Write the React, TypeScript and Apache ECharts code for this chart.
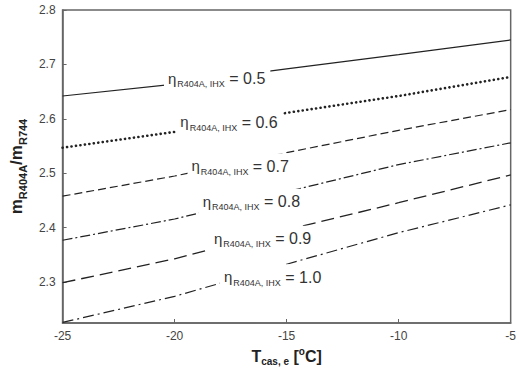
import React, { useEffect, useRef } from "react";
import * as echarts from "echarts";

const xValues = [-25, -20, -15, -10, -5];
const etaLabels = ["0.5", "0.6", "0.7", "0.8", "0.9", "1.0"];
const eta05 = [2.642, 2.664, 2.692, 2.718, 2.745];
const eta06 = [2.547, 2.576, 2.611, 2.642, 2.677];
const eta07 = [2.458, 2.495, 2.538, 2.579, 2.617];
const eta08 = [2.377, 2.416, 2.466, 2.516, 2.556];
const eta09 = [2.299, 2.343, 2.396, 2.446, 2.497];
const eta10 = [2.226, 2.274, 2.333, 2.391, 2.442];
const yTickValues = [2.3, 2.4, 2.5, 2.6, 2.7, 2.8];
const xTickValues = [-25, -20, -15, -10, -5];

// label anchor positions (data coordinates) for each curve's inline label
const labelAnchors = [
  [-18.1, 2.672],
  [-17.55, 2.592],
  [-17.05, 2.511],
  [-16.55, 2.446],
  [-16.05, 2.378],
  [-15.6, 2.307],
];

const seriesValues = [eta05, eta06, eta07, eta08, eta09, eta10];
const lineTypes: any[] = [
  "solid",
  [0.1, 4.4],
  [8, 4],
  [10, 3, 2, 3],
  [13, 6],
  [11, 4, 2, 4],
];
const lineWidths = [1.2, 2.6, 1.2, 1.2, 1.3, 1.2];
const lineCaps: any[] = ["butt", "round", "butt", "butt", "butt", "butt"];

const FONT = "Liberation Sans, Arial, sans-serif";

export default function App() {
  const ref = useRef<HTMLDivElement>(null);
  useEffect(() => {
    if (!ref.current) return;
    const chart = echarts.init(ref.current, undefined, { renderer: "svg" });
    const labelRich = {
      eta: { fontSize: 15, color: "#333", fontFamily: FONT, verticalAlign: "top", lineHeight: 18 },
      sub: { fontSize: 9, color: "#333", fontFamily: FONT, verticalAlign: "bottom", lineHeight: 14, padding: [0, 0, 0, 1] },
      eq: { fontSize: 16, color: "#333", fontFamily: FONT, verticalAlign: "top", lineHeight: 18 },
    };
    const series: any[] = seriesValues.map((vals, i) => ({
      type: "line",
      name: etaLabels[i],
      data: xValues.map((x, j) => [x, vals[j]]),
      showSymbol: false,
      symbol: "none",
      lineStyle: { color: "#222", width: lineWidths[i], type: lineTypes[i], cap: lineCaps[i] },
      z: 2,
      markPoint: {
        symbol: "circle",
        symbolSize: 0,
        silent: true,
        data: [{ coord: labelAnchors[i] }],
        label: {
          show: true,
          position: "inside",
          formatter: `{eta|η}{sub|R404A, IHX}{eq| = ${etaLabels[i]}}`,
          backgroundColor: "#fff",
          padding: [5, 5, 5, 4],
          rich: labelRich,
        },
      },
    }));
    chart.setOption({
      animation: false,
      backgroundColor: "#fff",
      grid: {
        left: 61,
        right: 7,
        top: 10,
        bottom: 50,
        show: true,
        borderColor: "#666",
        borderWidth: 1.5,
      },
      xAxis: {
        type: "value",
        min: -25,
        max: -5,
        interval: 5,
        name: "{t|T}{sub|cas, e}{t| [}{sup|o}{t|C]}",
        nameLocation: "middle",
        nameGap: 11,
        nameTextStyle: {
          rich: {
            t: { fontSize: 16, fontWeight: "bold", color: "#222", fontFamily: FONT, verticalAlign: "middle", lineHeight: 20 },
            sub: { fontSize: 10, fontWeight: "bold", color: "#222", fontFamily: FONT, verticalAlign: "bottom", lineHeight: 12 },
            sup: { fontSize: 10, fontWeight: "bold", color: "#222", fontFamily: FONT, verticalAlign: "top", lineHeight: 12 },
          },
        },
        axisLine: { lineStyle: { color: "#666", width: 1.5 } },
        axisTick: { inside: true, length: 4, lineStyle: { color: "#666" }, customValues: xTickValues },
        axisLabel: {
          color: "#444",
          fontSize: 12,
          fontFamily: FONT,
          margin: 7,
          customValues: xTickValues,
        },
        splitLine: { show: false },
      },
      yAxis: {
        type: "value",
        min: 2.225,
        max: 2.8,
        name: "{m|m}{sub|R404A}{m|/m}{sub|R744}",
        nameLocation: "middle",
        nameRotate: 90,
        nameGap: 34,
        nameTextStyle: {
          rich: {
            m: { fontSize: 17, fontWeight: "bold", color: "#222", fontFamily: FONT, verticalAlign: "top", lineHeight: 20 },
            sub: { fontSize: 11, fontWeight: "bold", color: "#222", fontFamily: FONT, verticalAlign: "bottom", lineHeight: 13 },
          },
        },
        axisLine: { lineStyle: { color: "#666", width: 1.5 } },
        axisTick: { inside: true, length: 4, lineStyle: { color: "#666" }, customValues: yTickValues },
        axisLabel: {
          color: "#444",
          fontSize: 12,
          fontFamily: FONT,
          margin: 7,
          customValues: yTickValues,
          formatter: (v: number) => v.toFixed(1),
        },
        splitLine: { show: false },
      },
      series,
    });
    return () => chart.dispose();
  }, []);
  return <div ref={ref} style={{ width: 519, height: 373, position: "absolute", left: 0, top: 0 }} />;
}
